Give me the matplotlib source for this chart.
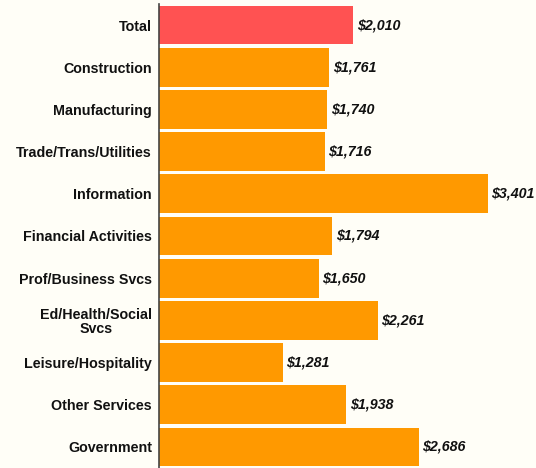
import matplotlib
matplotlib.use("Agg")
import matplotlib.pyplot as plt

categories = ["Total", "Construction", "Manufacturing", "Trade/Trans/Utilities",
              "Information", "Financial Activities", "Prof/Business Svcs",
              "Ed/Health/Social\nSvcs", "Leisure/Hospitality", "Other Services",
              "Government"]
values = [2010, 1761, 1740, 1716, 3401, 1794, 1650, 2261, 1281, 1938, 2686]
colors = ["#FF5252"] + ["#FF9900"] * 10

plt.rcParams['font.family'] = ['Liberation Sans', 'DejaVu Sans']
bg = "#FFFEF7"
fig = plt.figure(figsize=(5.36, 4.68), dpi=100, facecolor=bg)
ax = fig.add_axes([159/536, 0.0, 377/536, 464/468])
ax.set_facecolor(bg)
y = list(range(len(categories)))
ax.barh(y, values, height=0.92, color=colors)
for yi, v in zip(y, values):
    ax.text(v + 35, yi, f"${v:,}", va="center", ha="left", fontsize=10.3,
            fontweight="bold", fontstyle="italic", color="#111111")
ax.set_xlim(0, 3900)
ax.set_ylim(len(categories) - 0.5, -0.5)
ax.set_yticks(y)
ax.set_yticklabels(categories, fontsize=10.3, fontweight="bold", color="#111111")
for lab in ax.get_yticklabels():
    lab.set_multialignment("center")
    lab.set_linespacing(1.0)
ax.tick_params(axis="y", length=0, pad=5)
ax.set_xticks([])
for s in ["top", "right", "bottom"]:
    ax.spines[s].set_visible(False)
ax.spines["left"].set_color("#444444")
ax.spines["left"].set_linewidth(1.2)
fig.savefig("out.png", dpi=100, facecolor=bg)
